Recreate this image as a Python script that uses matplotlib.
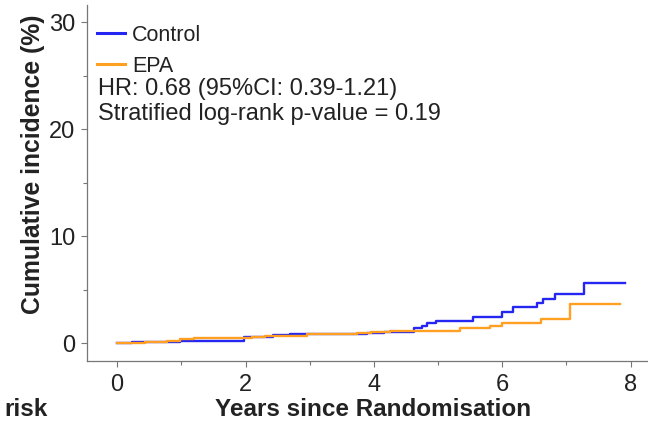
import matplotlib
matplotlib.use("Agg")
import matplotlib.pyplot as plt
from matplotlib.lines import Line2D

plt.rcParams['font.family'] = ['Liberation Sans', 'DejaVu Sans']

# Step data (years, cumulative incidence %)
control_t = [0, 0.23, 0.98, 1.97, 2.43, 2.69, 3.89, 4.15, 4.45, 4.62, 4.75, 4.82, 4.97,
             5.54, 6.00, 6.16, 6.54, 6.64, 6.82, 7.28, 7.91]
control_v = [0, 0.09, 0.19, 0.59, 0.72, 0.84, 0.90, 1.00, 1.06, 1.37, 1.60, 1.84, 2.09,
             2.46, 2.93, 3.39, 3.71, 4.08, 4.58, 5.64, 5.64]
epa_t = [0, 0.44, 0.77, 0.98, 1.19, 2.02, 2.10, 2.30, 2.95, 3.73, 3.95, 4.25,
         5.34, 5.81, 5.99, 6.60, 7.05, 7.84]
epa_v = [0, 0.06, 0.15, 0.34, 0.44, 0.50, 0.59, 0.65, 0.81, 0.96, 1.05, 1.15,
         1.37, 1.62, 1.90, 2.21, 3.64, 3.64]

series_names = ["Control", "EPA"]
series_colors = ["#2626f2", "#ffa023"]
x_ticks = [0, 2, 4, 6, 8]
y_ticks = [0, 10, 20, 30]
hr_text = "HR: 0.68 (95%CI: 0.39-1.21)"
p_text = "Stratified log-rank p-value = 0.19"

W, H = 648, 425
fig = plt.figure(figsize=(W/100, H/100), dpi=100)
ax = fig.add_axes([87/W, 1-361/H, (648-87)/W, (361-5)/H])

ax.step(control_t, control_v, where='post', color=series_colors[0], lw=1.7)
ax.step(epa_t, epa_v, where='post', color=series_colors[1], lw=1.7)

ax.set_xlim(-0.47, 8.27)
ax.set_ylim(-1.68, 31.6)
ax.set_xticks(x_ticks)
ax.set_yticks(y_ticks)
ax.set_xticks([1, 3, 5, 7], minor=True)
ax.set_yticks([5, 15, 25], minor=True)
ax.tick_params(axis='both', which='major', labelsize=17, length=4, width=0.8,
               color='#777777', labelcolor='#222222')
ax.tick_params(axis='y', which='major', pad=4.5)
ax.tick_params(axis='x', which='major', pad=5.5)
ax.tick_params(axis='both', which='minor', length=3, width=0.8, color='#777777')
for s in ['top', 'right']:
    ax.spines[s].set_visible(False)
for s in ['left', 'bottom']:
    ax.spines[s].set_color('#777777')
    ax.spines[s].set_linewidth(0.9)

handles = [Line2D([], [], color=c, lw=2.2) for c in series_colors]
leg = ax.legend(handles, series_names, loc='upper left',
                bbox_to_anchor=(97/W, 1-25/H), bbox_transform=fig.transFigure,
                frameon=False, fontsize=15.5, handlelength=1.3, handletextpad=0.32,
                labelspacing=0.45, borderaxespad=0, borderpad=0)
for t in leg.get_texts():
    t.set_color('#222222')

fig.text(98/W, 1-94.7/H, hr_text, fontsize=17, color='#222222', va='baseline', ha='left')
fig.text(98/W, 1-120.5/H, p_text, fontsize=17, color='#222222', va='baseline', ha='left')

fig.text(373/W, 1-415.5/H, "Years since Randomisation", fontsize=17.5, fontweight='bold',
         ha='center', va='baseline', color='#222222')
fig.text(4/W, 1-415.5/H, "risk", fontsize=17.5, fontweight='bold',
         ha='left', va='baseline', color='#222222')
fig.text(21/W, 1-164/H, "Cumulative incidence (%)", fontsize=17.8, fontweight='bold',
         ha='left', va='center', rotation=90, color='#222222')

fig.savefig("out.png", dpi=100)
